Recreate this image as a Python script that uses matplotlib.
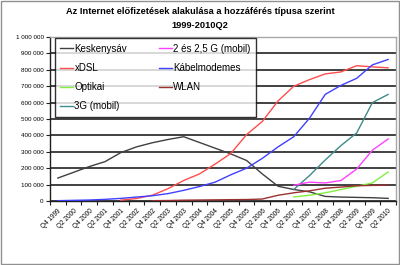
import numpy as np
import matplotlib.pyplot as plt
from matplotlib.ticker import FuncFormatter, FixedLocator
from matplotlib.patches import Rectangle

plt.rcParams['font.family'] = ['Liberation Sans', 'DejaVu Sans']

# ---- data ----
periods = ['Q4 1999', 'Q2 2000', 'Q4 2000', 'Q2 2001', 'Q4 2001', 'Q2 2002',
           'Q4 2002', 'Q2 2003', 'Q4 2003', 'Q2 2004', 'Q4 2004', 'Q2 2005',
           'Q4 2005', 'Q2 2006', 'Q4 2006', 'Q2 2007', 'Q4 2007', 'Q2 2008',
           'Q4 2008', 'Q2 2009', 'Q4 2009', 'Q2 2010']

nan = np.nan
keskenysav = [140000, 175000, 210000, 240000, 295000, 330000, 355000, 375000,
              392000, 357000, 322000, 287000, 247000, 165000, 90000, 70000,
              56000, 28000, 24000, 22000, 20000, 16000]
xdsl = [nan, nan, nan, nan, 5000, 15000, 35000, 75000, 125000, 165000, 225000,
        290000, 405000, 485000, 610000, 700000, 740000, 775000, 787000,
        825000, 818000, 812000]
optikai = [nan] * 15 + [25000, 35000, 50000, 70000, 90000, 110000, 177000]
mobil_3g = [nan] * 15 + [70000, 155000, 250000, 338000, 415000, 600000, 650000]
mobil_2g = [nan] * 15 + [96000, 115000, 110000, 125000, 195000, 310000, 378000]
kabel = [2000, 4000, 6000, 10000, 16000, 24000, 32000, 45000, 65000, 88000,
         115000, 160000, 200000, 260000, 330000, 392000, 505000, 650000,
         705000, 748000, 830000, 863000]
wlan = [nan] * 6 + [2000, 3000, 5000, 6000, 7000, 8000, 9000, 12000, 35000,
                    50000, 62000, 78000, 85000, 93000, 95000, 96000]

# legend order: first column, then second column
series = [
    ('Keskenysáv', keskenysav, '#404040'),
    ('xDSL', xdsl, '#ff4d4d'),
    ('Optikai', optikai, '#80f040'),
    ('3G (mobil)', mobil_3g, '#3f8a8a'),
    ('2 és 2,5 G (mobil)', mobil_2g, '#ff40ff'),
    ('Kábelmodemes', kabel, '#4040ff'),
    ('WLAN', wlan, '#9a3030'),
]

# ---- figure ----
fig = plt.figure(figsize=(4.0, 2.65), dpi=100)
fig.patches.append(Rectangle((0.002, 0.003), 0.995, 0.994, transform=fig.transFigure,
                             fill=False, edgecolor='#909090', linewidth=1))

ax = fig.add_axes([50 / 400, 1 - 201 / 265, 346 / 400, 164 / 265])
x = np.arange(len(periods))

for label, vals, color in series:
    ax.plot(x, vals, color=color, linewidth=1.0, label=label, zorder=3)

ax.set_xlim(-0.5, len(periods) - 0.5)
ax.set_ylim(0, 1000000)
ax.set_yticks(np.arange(0, 1000001, 100000))
ax.yaxis.set_major_formatter(FuncFormatter(lambda v, p: f'{int(v):,}'.replace(',', ' ')))
ax.tick_params(axis='y', labelsize=4.5, length=3, width=0.8, pad=1.5, color='#202020')

ax.set_xticks(x)
ax.set_xticklabels(periods, rotation=45, ha='right', va='top', rotation_mode='anchor',
                   fontsize=4.7)
ax.xaxis.set_minor_locator(FixedLocator(np.arange(-0.5, len(periods), 1)))
ax.tick_params(axis='x', which='major', length=0, pad=5)
ax.tick_params(axis='x', which='minor', length=3, width=0.8, color='#202020')

ax.yaxis.grid(True, color='#333333', linewidth=1.3, zorder=1)
ax.get_ygridlines()[-1].set_visible(False)
ax.set_axisbelow(True)

for side in ['top', 'right']:
    ax.spines[side].set_color('#a8a8a8')
    ax.spines[side].set_linewidth(1.0)
for side in ['left', 'bottom']:
    ax.spines[side].set_color('#202020')
    ax.spines[side].set_linewidth(1.0)

leg = ax.legend(ncol=2, loc='upper left', mode='expand',
                bbox_to_anchor=(55 / 400, 1 - 41 / 265, 201 / 400, 0.01),
                bbox_transform=fig.transFigure, borderaxespad=0,
                fontsize=7, frameon=True, fancybox=False, edgecolor='black',
                handlelength=1.3, handletextpad=0.15, labelspacing=0.95,
                borderpad=0.55)
leg.get_frame().set_linewidth(1.0)
leg.set_zorder(5)

fig.text(0.5, 1 - 11 / 265, 'Az Internet előfizetések alakulása a hozzáférés típusa szerint',
         ha='center', va='center', fontsize=6.7, fontweight='bold')
fig.text(0.5, 1 - 26 / 265, '1999-2010Q2', ha='center', va='center',
         fontsize=6.7, fontweight='bold')

plt.savefig('out.png', dpi=100)
